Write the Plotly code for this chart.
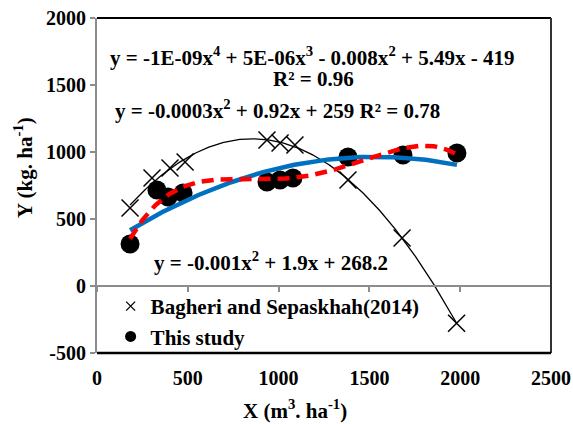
import numpy as np
import plotly.graph_objects as go

# Bagheri and Sepaskhah (2014) data (crosses)
bagheri_x = [182, 303, 402, 485, 936, 1008, 1090, 1382, 1680, 1980]
bagheri_y = [582, 806, 881, 925, 1090, 1067, 1052, 791, 358, -278]

# This study data (circles)
study_x = [182, 330, 391, 474, 936, 1008, 1079, 1382, 1685, 1982]
study_y = [313, 716, 664, 694, 776, 791, 806, 963, 978, 993]

# printed quadratic trendline of this study (blue)
blue_coef = [-0.0003, 0.92, 259]

x_ticks = [0, 500, 1000, 1500, 2000, 2500]
y_ticks = [-500, 0, 500, 1000, 1500, 2000]

FONT = "Liberation Serif"

def trend(xs, ys, deg):
    c = np.polyfit(xs, ys, deg)
    xx = np.linspace(min(xs), max(xs), 200)
    return xx, np.polyval(c, xx)

bx, by = trend(bagheri_x, bagheri_y, 2)
sx4, sy4 = trend(study_x, study_y, 4)
sx2 = np.linspace(min(study_x), max(study_x), 200)
sy2 = np.polyval(blue_coef, sx2)

fig = go.Figure()

fig.add_trace(go.Scatter(x=bagheri_x, y=bagheri_y, mode="markers",
                         marker=dict(symbol="x-thin", size=17, line=dict(color="black", width=1.5)),
                         showlegend=False))
fig.add_trace(go.Scatter(x=study_x, y=study_y, mode="markers",
                         marker=dict(symbol="circle", size=19, color="black"),
                         showlegend=False))
fig.add_trace(go.Scatter(x=bx, y=by, mode="lines", line=dict(color="black", width=1.3),
                         showlegend=False))
fig.add_trace(go.Scatter(x=sx2, y=sy2, mode="lines", line=dict(color="#0070C0", width=4.5),
                         showlegend=False))
fig.add_trace(go.Scatter(x=sx4, y=sy4, mode="lines",
                         line=dict(color="#FF0000", width=4.5, dash="12px,7px"),
                         showlegend=False))

# legend entries
fig.add_trace(go.Scatter(x=[None], y=[None], mode="markers", name="Bagheri and Sepaskhah(2014)",
                         marker=dict(symbol="x-thin", size=9, line=dict(color="black", width=1.3))))
fig.add_trace(go.Scatter(x=[None], y=[None], mode="markers", name="This study",
                         marker=dict(symbol="circle", size=11, color="black")))

# helper axis drawn along y = 0 with tick marks
fig.add_trace(go.Scatter(x=[None], y=[None], xaxis="x2", showlegend=False))

def bold(size):
    return dict(family=FONT, size=size, color="black", weight="bold")

fig.update_layout(
    width=573, height=424,
    margin=dict(l=97, r=22, t=18, b=71),
    paper_bgcolor="white", plot_bgcolor="white",
    font=dict(family=FONT, size=20, color="black"),
    showlegend=True,
    legend=dict(x=0.03, y=0.2, xanchor="left", yanchor="top",
                bgcolor="rgba(0,0,0,0)", font=bold(21),
                itemwidth=30, tracegroupgap=0),
    xaxis=dict(range=[0, 2500], tickvals=x_ticks, ticktext=[str(v) for v in x_ticks],
               showgrid=False, zeroline=False, showline=False, ticks="",
               tickfont=bold(20), ticklabelstandoff=11, automargin=False),
    xaxis2=dict(range=[0, 2500], overlaying="x", anchor="free", position=0.2,
                tickvals=x_ticks, showticklabels=False, showgrid=False, zeroline=False,
                showline=True, linecolor="#8c8c8c", linewidth=2, automargin=False,
                ticks="outside", ticklen=5, tickcolor="#8c8c8c", tickwidth=2),
    yaxis=dict(range=[-500, 2000], tickvals=y_ticks, ticktext=[str(v) for v in y_ticks],
               showgrid=False, zeroline=False, showline=True, linecolor="#8c8c8c", linewidth=2,
               ticks="outside", ticklen=5, tickcolor="#8c8c8c", tickwidth=2,
               tickfont=bold(20), automargin=False),
    shapes=[
        dict(type="line", xref="paper", yref="paper", x0=0, x1=1, y0=1, y1=1,
             line=dict(color="black", width=2)),
        dict(type="line", xref="paper", yref="paper", x0=1, x1=1, y0=0, y1=1,
             line=dict(color="#333333", width=2)),
        dict(type="line", xref="paper", yref="paper", x0=0, x1=1, y0=0, y1=0,
             line=dict(color="black", width=2.5)),
    ],
    annotations=[
        dict(xref="paper", yref="paper", x=0.025, y=0.884, xanchor="left", yanchor="middle",
             showarrow=False,
             text="y = -1E-09x<sup>4</sup> + 5E-06x<sup>3</sup> - 0.008x<sup>2</sup> + 5.49x - 419",
             font=bold(21)),
        dict(xref="paper", yref="paper", x=0.476, y=0.818, xanchor="center", yanchor="middle",
             showarrow=False, text="R² = 0.96", font=bold(21)),
        dict(xref="paper", yref="paper", x=0.035, y=0.728, xanchor="left", yanchor="middle",
             showarrow=False,
             text="y = -0.0003x<sup>2</sup> + 0.92x + 259 R² = 0.78", font=bold(21)),
        dict(xref="paper", yref="paper", x=0.122, y=0.272, xanchor="left", yanchor="middle",
             showarrow=False,
             text="y = -0.001x<sup>2</sup> + 1.9x + 268.2", font=bold(21)),
        # axis titles
        dict(xref="paper", yref="paper", x=0.436, y=-0.17, xanchor="center", yanchor="middle",
             showarrow=False,
             text="X (m<sup>3</sup>. ha<sup>-1</sup>)", font=bold(21)),
        dict(xref="paper", yref="paper", x=-0.163, y=0.555, xanchor="center", yanchor="middle",
             showarrow=False, textangle=-90,
             text="Y (kg. ha<sup>-1</sup>)", font=bold(21)),
    ],
)

fig.write_html("out.html", config={"displayModeBar": False},
               post_script="document.body.style.margin='0';")
